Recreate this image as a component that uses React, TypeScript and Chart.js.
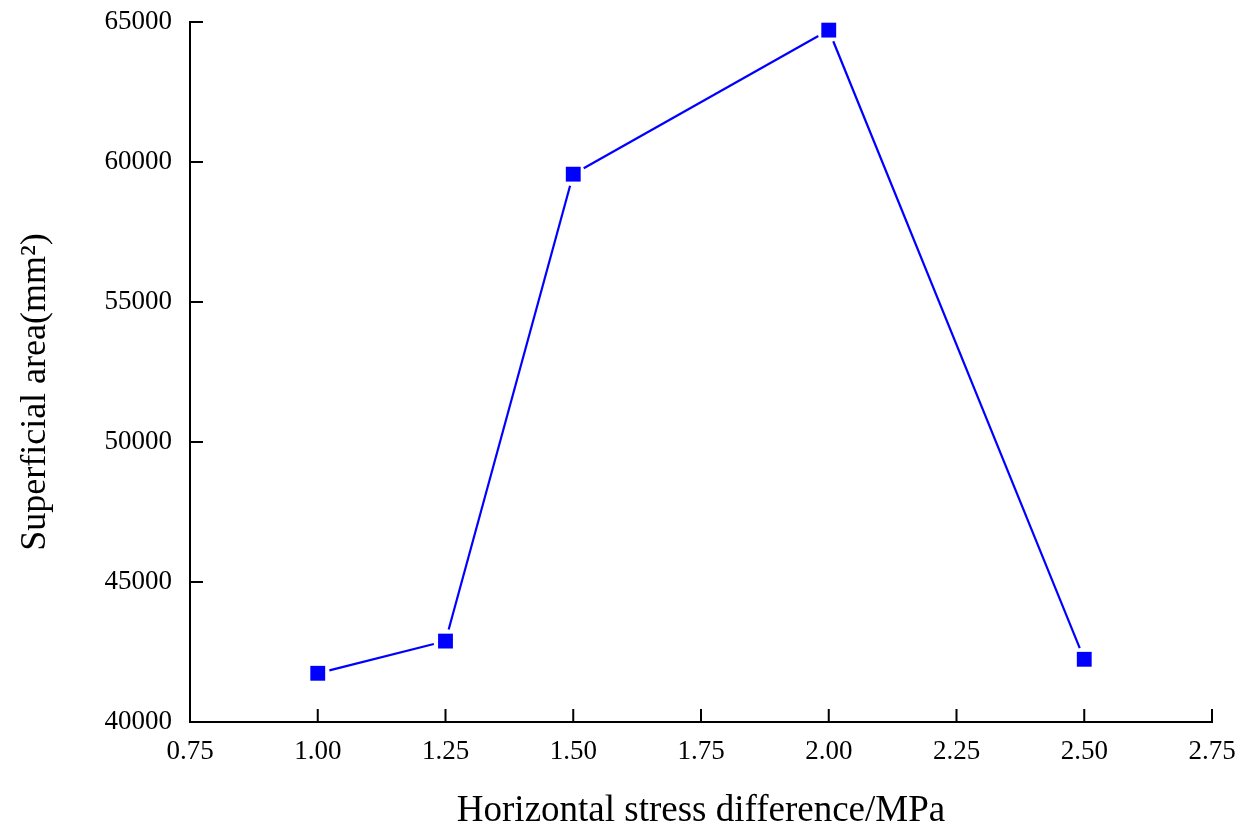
import React, { useEffect, useRef } from "react";
import { Chart, registerables } from "chart.js";

Chart.register(...registerables);

const xValues = [1.0, 1.25, 1.5, 2.0, 2.5];
const areaValues = [41740, 42890, 59565, 64710, 42240];
const xTitle = "Horizontal stress difference/MPa";
const yTitle = "Superficial area(mm\u00B2)";

const FONT = "'Liberation Serif', 'Times New Roman', serif";

const gapLinePlugin = {
  id: "gapLine",
  beforeDatasetsDraw(chart: any) {
    const meta = chart.getDatasetMeta(0);
    const pts = meta.data;
    const ctx = chart.ctx;
    const gap = 12;
    ctx.save();
    ctx.strokeStyle = "#0000FF";
    ctx.lineWidth = 2.2;
    for (let i = 0; i < pts.length - 1; i++) {
      const a = pts[i];
      const b = pts[i + 1];
      const dx = b.x - a.x;
      const dy = b.y - a.y;
      const len = Math.sqrt(dx * dx + dy * dy);
      if (len <= gap * 2) continue;
      const ux = dx / len;
      const uy = dy / len;
      ctx.beginPath();
      ctx.moveTo(a.x + ux * gap, a.y + uy * gap);
      ctx.lineTo(b.x - ux * gap, b.y - uy * gap);
      ctx.stroke();
    }
    ctx.restore();
  },
};

const axesDecorPlugin = {
  id: "axesDecor",
  afterDraw(chart: any) {
    const ctx = chart.ctx;
    const xs = chart.scales.x;
    const ys = chart.scales.y;
    const area = chart.chartArea;
    const tl = 13;
    ctx.save();
    ctx.strokeStyle = "#000";
    ctx.lineWidth = 2;
    ctx.beginPath();
    xs.ticks.forEach((t: any) => {
      const px = xs.getPixelForValue(t.value);
      ctx.moveTo(px, area.bottom);
      ctx.lineTo(px, area.bottom - tl);
    });
    ys.ticks.forEach((t: any) => {
      const py = ys.getPixelForValue(t.value);
      ctx.moveTo(area.left, py);
      ctx.lineTo(area.left + tl, py);
    });
    ctx.stroke();

    ctx.fillStyle = "#000";
    ctx.font = `37px ${FONT}`;
    ctx.textAlign = "center";
    ctx.textBaseline = "alphabetic";
    ctx.fillText(xTitle, (area.left + area.right) / 2, 821);

    ctx.font = `36px ${FONT}`;
    ctx.translate(45, 392);
    ctx.rotate(-Math.PI / 2);
    ctx.fillText(yTitle, 0, 0);
    ctx.restore();
  },
};

export default function App() {
  const ref = useRef<HTMLCanvasElement | null>(null);

  useEffect(() => {
    document.body.style.margin = "0";
    document.body.style.overflow = "hidden";
    const canvas = ref.current;
    if (!canvas) return;
    const chart = new Chart(canvas, {
      type: "scatter",
      data: {
        datasets: [
          {
            data: xValues.map((x, i) => ({ x, y: areaValues[i] })),
            showLine: false,
            pointStyle: "rect",
            pointRadius: 10.5,
            pointHoverRadius: 10.5,
            pointBackgroundColor: "#0000FF",
            pointBorderWidth: 0,
            borderColor: "#0000FF",
          },
        ],
      },
      options: {
        responsive: false,
        animation: false,
        layout: { padding: { top: 22, right: 42, left: 0, bottom: 0 } },
        plugins: {
          legend: { display: false },
          tooltip: { enabled: false },
        },
        scales: {
          x: {
            type: "linear",
            min: 0.75,
            max: 2.75,
            afterFit: (s: any) => {
              s.height = 102;
              s.paddingLeft = 0;
              s.paddingRight = 0;
            },
            grid: { display: false, drawTicks: false },
            border: { display: true, color: "#000", width: 2 },
            ticks: {
              stepSize: 0.25,
              padding: 14,
              color: "#000",
              font: { family: FONT, size: 27 },
              callback: (v: any) => Number(v).toFixed(2),
              maxRotation: 0,
              autoSkip: false,
            },
          },
          y: {
            type: "linear",
            min: 40000,
            max: 65000,
            afterFit: (s: any) => {
              s.width = 190;
              s.paddingTop = 0;
              s.paddingBottom = 0;
            },
            grid: { display: false, drawTicks: false },
            border: { display: true, color: "#000", width: 2 },
            ticks: {
              stepSize: 5000,
              padding: 18,
              color: "#000",
              font: { family: FONT, size: 27 },
              callback: (v: any) => String(v),
              autoSkip: false,
            },
          },
        },
      },
      plugins: [gapLinePlugin, axesDecorPlugin],
    });
    return () => chart.destroy();
  }, []);

  return (
    <div style={{ width: 1254, height: 824, background: "#fff" }}>
      <canvas ref={ref} width={1254} height={824} style={{ display: "block" }} />
    </div>
  );
}
